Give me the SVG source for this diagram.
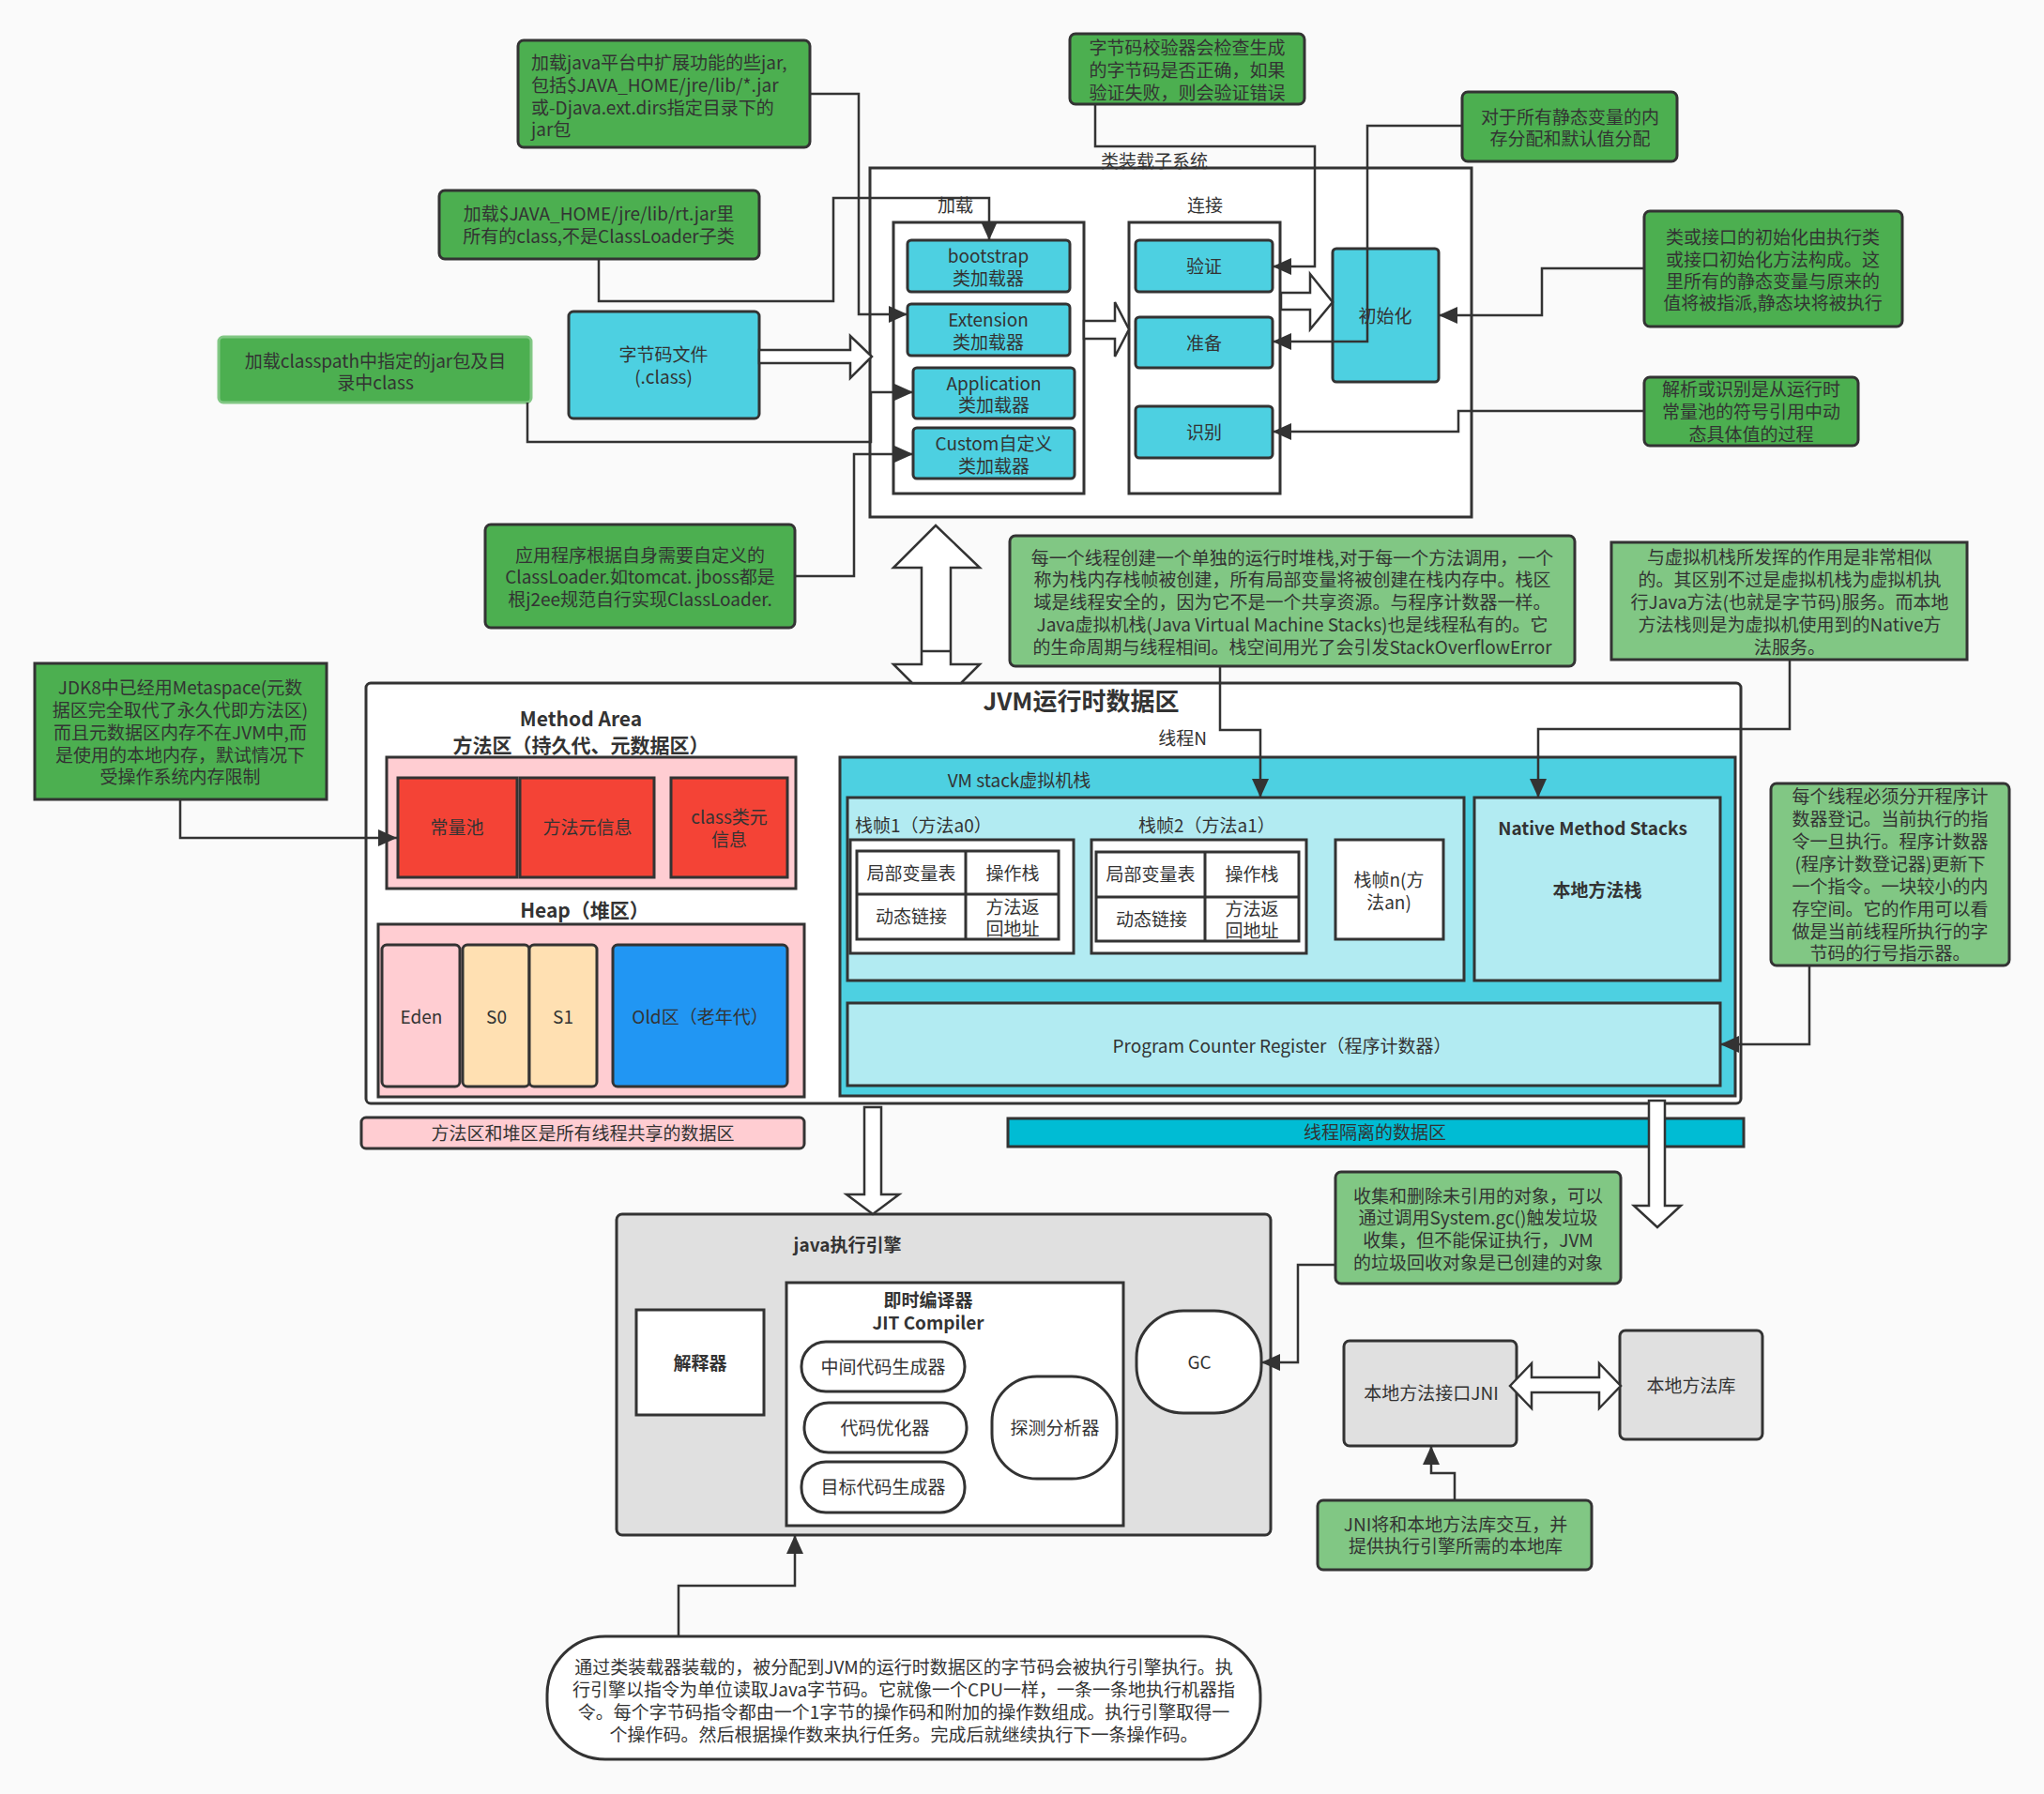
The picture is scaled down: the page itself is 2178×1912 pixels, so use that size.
<svg xmlns="http://www.w3.org/2000/svg" width="2178" height="1912" viewBox="0 0 2178 1912">
<defs>
<style>
.n{stroke:#333;stroke-width:3}
.g{fill:#4CAF50}
.lg{fill:#81C784}
.cy{fill:#4DD0E1}
.lc{fill:#B2EBF2}
.w{fill:#fff}
.pk{fill:#FFCDD2}
.rd{fill:#F44336}
.pe{fill:#FFE0B2}
.bl{fill:#2196F3}
.gr{fill:#E0E0E0}
.t{font-family:"Noto Sans CJK SC","Noto Sans",sans-serif;font-size:19px;fill:#333;text-anchor:middle;dominant-baseline:central;transform:translateY(-2px)}
.l{text-anchor:start}
.b{font-weight:bold}
.c{fill:none;stroke:#333;stroke-width:2.5}
.h{fill:#fff;stroke:#333;stroke-width:2.5;stroke-linejoin:miter}
</style>
<marker id="ah" markerUnits="userSpaceOnUse" markerWidth="22" markerHeight="20" refX="20" refY="10" orient="auto">
<path d="M0,1 L20,10 L0,19 z" fill="#333"/>
</marker>
</defs>
<rect x="0" y="0" width="2178" height="1912" fill="#FAFAFA"/>

<!-- Class loader subsystem -->
<g id="classloader-subsystem">
<rect class="n w" x="927" y="179" width="641" height="372"/>
<text class="t" x="1230" y="172">类装载子系统</text>
</g>
<g id="load-group">
<rect class="n w" x="952" y="237" width="203" height="289"/>
<text class="t" x="1018" y="219">加载</text>
</g>
<g id="link-group">
<rect class="n w" x="1203" y="237" width="161" height="289"/>
<text class="t" x="1284" y="219">连接</text>
</g>
<g id="bootstrap">
<rect class="n cy" x="967" y="256" width="173" height="55" rx="4"/>
<text class="t"><tspan x="1053" y="273">bootstrap</tspan><tspan x="1053" y="297">类加载器</tspan></text>
</g>
<g id="extension">
<rect class="n cy" x="967" y="324" width="173" height="55" rx="4"/>
<text class="t"><tspan x="1053" y="341">Extension</tspan><tspan x="1053" y="365">类加载器</tspan></text>
</g>
<g id="application">
<rect class="n cy" x="973" y="392" width="172" height="54" rx="4"/>
<text class="t"><tspan x="1059" y="409">Application</tspan><tspan x="1059" y="432">类加载器</tspan></text>
</g>
<g id="custom">
<rect class="n cy" x="973" y="456" width="172" height="54" rx="4"/>
<text class="t"><tspan x="1059" y="473">Custom自定义</tspan><tspan x="1059" y="497">类加载器</tspan></text>
</g>
<g id="verify">
<rect class="n cy" x="1210" y="256" width="146" height="55" rx="4"/>
<text class="t" x="1283" y="284">验证</text>
</g>
<g id="prepare">
<rect class="n cy" x="1210" y="338" width="146" height="54" rx="4"/>
<text class="t" x="1283" y="366">准备</text>
</g>
<g id="resolve">
<rect class="n cy" x="1210" y="433" width="146" height="55" rx="4"/>
<text class="t" x="1283" y="461">识别</text>
</g>
<g id="init">
<rect class="n cy" x="1420" y="265" width="113" height="142" rx="4"/>
<text class="t" x="1476" y="337">初始化</text>
</g>

<!-- annotation boxes top -->
<g id="note-ext">
<rect class="n g" x="552" y="43" width="311" height="114" rx="6"/>
<text class="t l"><tspan x="566" y="67">加载java平台中扩展功能的些jar,</tspan><tspan x="566" y="91">包括$JAVA_HOME/jre/lib/*.jar</tspan><tspan x="566" y="115">或-Djava.ext.dirs指定目录下的</tspan><tspan x="566" y="138">jar包</tspan></text>
</g>
<g id="note-boot">
<rect class="n g" x="468" y="203" width="341" height="73" rx="6"/>
<text class="t"><tspan x="638" y="228">加载$JAVA_HOME/jre/lib/rt.jar里</tspan><tspan x="638" y="252">所有的class,不是ClassLoader子类</tspan></text>
</g>
<g id="note-app">
<rect x="233" y="359" width="333" height="70" rx="5" fill="#4CAF50" stroke="#81C784" stroke-width="3"/>
<text class="t"><tspan x="400" y="385">加载classpath中指定的jar包及目</tspan><tspan x="400" y="408">录中class</tspan></text>
</g>
<g id="bytecode-file">
<rect class="n cy" x="606" y="332" width="203" height="114" rx="5"/>
<text class="t"><tspan x="707" y="378">字节码文件</tspan><tspan x="707" y="402">(.class)</tspan></text>
</g>
<g id="note-custom">
<rect class="n g" x="517" y="559" width="330" height="110" rx="6"/>
<text class="t"><tspan x="682" y="592">应用程序根据自身需要自定义的</tspan><tspan x="682" y="615">ClassLoader.如tomcat. jboss都是</tspan><tspan x="682" y="639">根j2ee规范自行实现ClassLoader.</tspan></text>
</g>
<g id="note-verify">
<rect class="n g" x="1140" y="36" width="250" height="75" rx="6"/>
<text class="t"><tspan x="1265" y="51">字节码校验器会检查生成</tspan><tspan x="1265" y="75">的字节码是否正确，如果</tspan><tspan x="1265" y="99">验证失败，则会验证错误</tspan></text>
</g>
<g id="note-prepare">
<rect class="n g" x="1558" y="98" width="229" height="74" rx="6"/>
<text class="t"><tspan x="1673" y="125">对于所有静态变量的内</tspan><tspan x="1673" y="148">存分配和默认值分配</tspan></text>
</g>
<g id="note-init">
<rect class="n g" x="1752" y="225" width="275" height="123" rx="6"/>
<text class="t"><tspan x="1889" y="253">类或接口的初始化由执行类</tspan><tspan x="1889" y="277">或接口初始化方法构成。这</tspan><tspan x="1889" y="300">里所有的静态变量与原来的</tspan><tspan x="1889" y="323">值将被指派,静态块将被执行</tspan></text>
</g>
<g id="note-resolve">
<rect class="n g" x="1752" y="402" width="228" height="73" rx="6"/>
<text class="t"><tspan x="1866" y="415">解析或识别是从运行时</tspan><tspan x="1866" y="439">常量池的符号引用中动</tspan><tspan x="1866" y="463">态具体值的过程</tspan></text>
</g>
<g id="note-stack">
<rect class="n lg" x="1076" y="571" width="602" height="139" rx="6"/>
<text class="t"><tspan x="1377" y="595">每一个线程创建一个单独的运行时堆栈,对于每一个方法调用，一个</tspan><tspan x="1377" y="618">称为栈内存栈帧被创建，所有局部变量将被创建在栈内存中。栈区</tspan><tspan x="1377" y="642">域是线程安全的，因为它不是一个共享资源。与程序计数器一样。</tspan><tspan x="1377" y="666">Java虚拟机栈(Java Virtual Machine Stacks)也是线程私有的。它</tspan><tspan x="1377" y="690">的生命周期与线程相间。栈空间用光了会引发StackOverflowError</tspan></text>
</g>
<g id="note-native">
<rect class="n lg" x="1717" y="578" width="379" height="125"/>
<text class="t"><tspan x="1907" y="594">与虚拟机栈所发挥的作用是非常相似</tspan><tspan x="1907" y="618">的。其区别不过是虚拟机栈为虚拟机执</tspan><tspan x="1907" y="642">行Java方法(也就是字节码)服务。而本地</tspan><tspan x="1907" y="666">方法栈则是为虚拟机使用到的Native方</tspan><tspan x="1907" y="690">法服务。</tspan></text>
</g>
<g id="note-metaspace">
<rect class="n g" x="37" y="707" width="311" height="145"/>
<text class="t"><tspan x="192" y="733">JDK8中已经用Metaspace(元数</tspan><tspan x="192" y="757">据区完全取代了永久代即方法区)</tspan><tspan x="192" y="781">而且元数据区内存不在JVM中,而</tspan><tspan x="192" y="805">是使用的本地内存，默试情况下</tspan><tspan x="192" y="828">受操作系统内存限制</tspan></text>
</g>
<g id="note-pc">
<rect class="n lg" x="1887" y="835" width="254" height="194" rx="6"/>
<text class="t"><tspan x="2014" y="849">每个线程必须分开程序计</tspan><tspan x="2014" y="873">数器登记。当前执行的指</tspan><tspan x="2014" y="897">令一旦执行。程序计数器</tspan><tspan x="2014" y="921">(程序计数登记器)更新下</tspan><tspan x="2014" y="945">一个指令。一块较小的内</tspan><tspan x="2014" y="969">存空间。它的作用可以看</tspan><tspan x="2014" y="993">做是当前线程所执行的字</tspan><tspan x="2014" y="1016">节码的行号指示器。</tspan></text>
</g>

<!-- JVM runtime data area -->
<g id="jvm-runtime">
<rect class="n w" x="390" y="728" width="1465" height="448" rx="5"/>
<text class="t b" x="1152" y="747" style="font-size:26px">JVM运行时数据区</text>
<text class="t" x="1260" y="787">线程N</text>
</g>
<g id="method-area">
<text class="t b" style="font-size:21px"><tspan x="619" y="767">Method Area</tspan><tspan x="619" y="795">方法区（持久代、元数据区）</tspan></text>
<rect class="n pk" x="412" y="807" width="436" height="140"/>
</g>
<g id="const-pool">
<rect class="n rd" x="424" y="829" width="127" height="106"/>
<text class="t" x="487" y="882">常量池</text>
</g>
<g id="method-meta">
<rect class="n rd" x="554" y="829" width="143" height="106"/>
<text class="t" x="626" y="882">方法元信息</text>
</g>
<g id="class-meta">
<rect class="n rd" x="715" y="829" width="124" height="106"/>
<text class="t"><tspan x="777" y="871">class类元</tspan><tspan x="777" y="895">信息</tspan></text>
</g>
<g id="heap">
<text class="t b" x="623" y="971" style="font-size:21px">Heap（堆区）</text>
<rect class="n pk" x="403" y="985" width="454" height="184"/>
</g>
<g id="eden">
<rect class="n pk" x="407" y="1007" width="83" height="151" rx="5"/>
<text class="t" x="449" y="1084">Eden</text>
</g>
<g id="s0">
<rect class="n pe" x="493" y="1007" width="71" height="151" rx="5"/>
<text class="t" x="529" y="1084">S0</text>
</g>
<g id="s1">
<rect class="n pe" x="564" y="1007" width="72" height="151" rx="5"/>
<text class="t" x="600" y="1084">S1</text>
</g>
<g id="old">
<rect class="n bl" x="653" y="1007" width="186" height="151" rx="5"/>
<text class="t" x="746" y="1084">Old区（老年代）</text>
</g>
<g id="vm-stack">
<rect class="n cy" x="895" y="807" width="954" height="361"/>
<text class="t" x="1086" y="832">VM stack虚拟机栈</text>
<rect class="n lc" x="903" y="850" width="657" height="195"/>
<text class="t l" x="911" y="880">栈帧1（方法a0）</text>
<text class="t l" x="1213" y="880">栈帧2（方法a1）</text>
</g>
<g id="frame1">
<rect class="n w" x="906" y="895" width="238" height="121"/>
<rect class="n w" x="913" y="907" width="215" height="94"/>
<path class="c" d="M1029,907 V1001 M913,953 H1128" style="stroke-width:3"/>
<text class="t" x="971" y="931">局部变量表</text>
<text class="t" x="1079" y="931">操作栈</text>
<text class="t" x="971" y="977">动态链接</text>
<text class="t"><tspan x="1079" y="967">方法返</tspan><tspan x="1079" y="990">回地址</tspan></text>
</g>
<g id="frame2">
<rect class="n w" x="1163" y="895" width="229" height="121"/>
<rect class="n w" x="1168" y="908" width="216" height="95"/>
<path class="c" d="M1284,908 V1003 M1168,956 H1384" style="stroke-width:3"/>
<text class="t" x="1226" y="932">局部变量表</text>
<text class="t" x="1334" y="932">操作栈</text>
<text class="t" x="1227" y="980">动态链接</text>
<text class="t"><tspan x="1334" y="969">方法返</tspan><tspan x="1334" y="992">回地址</tspan></text>
</g>
<g id="frame-n">
<rect class="n w" x="1423" y="895" width="115" height="106"/>
<text class="t"><tspan x="1480" y="938">栈帧n(方</tspan><tspan x="1480" y="962">法an)</tspan></text>
</g>
<g id="native-stack">
<rect class="n lc" x="1571" y="850" width="262" height="195"/>
<text class="t b" x="1697" y="883">Native Method Stacks</text>
<text class="t b" x="1702" y="949">本地方法栈</text>
</g>
<g id="pc-register">
<rect class="n lc" x="903" y="1069" width="930" height="88"/>
<text class="t" x="1366" y="1115">Program Counter Register（程序计数器）</text>
</g>
<g id="shared-label">
<rect class="n pk" x="385" y="1191" width="472" height="33" rx="5"/>
<text class="t" x="621" y="1208">方法区和堆区是所有线程共享的数据区</text>
</g>
<g id="isolated-label">
<rect class="n" x="1074" y="1192" width="784" height="30" fill="#00BCD4"/>
<text class="t" x="1465" y="1207">线程隔离的数据区</text>
</g>

<!-- Execution engine -->
<g id="exec-engine">
<rect class="n gr" x="657" y="1294" width="697" height="342" rx="6"/>
<text class="t b" x="903" y="1327">java执行引擎</text>
</g>
<g id="interpreter">
<rect class="n w" x="678" y="1396" width="136" height="112"/>
<text class="t b" x="746" y="1453">解释器</text>
</g>
<g id="jit">
<rect class="n w" x="838" y="1367" width="359" height="259"/>
<text class="t b"><tspan x="989" y="1386">即时编译器</tspan><tspan x="989" y="1410">JIT Compiler</tspan></text>
</g>
<g id="ir-gen">
<rect class="n w" x="854" y="1430" width="174" height="53" rx="26"/>
<text class="t" x="941" y="1457">中间代码生成器</text>
</g>
<g id="optimizer">
<rect class="n w" x="857" y="1495" width="173" height="53" rx="26"/>
<text class="t" x="943" y="1522">代码优化器</text>
</g>
<g id="target-gen">
<rect class="n w" x="854" y="1558" width="174" height="54" rx="26"/>
<text class="t" x="941" y="1585">目标代码生成器</text>
</g>
<g id="profiler">
<rect class="n w" x="1057" y="1467" width="133" height="109" rx="48"/>
<text class="t" x="1124" y="1522">探测分析器</text>
</g>
<g id="gc">
<rect class="n w" x="1211" y="1397" width="133" height="109" rx="50"/>
<text class="t" x="1278" y="1452">GC</text>
</g>
<g id="note-gc">
<rect class="n lg" x="1423" y="1249" width="304" height="119" rx="6"/>
<text class="t"><tspan x="1575" y="1275">收集和删除未引用的对象，可以</tspan><tspan x="1575" y="1298">通过调用System.gc()触发垃圾</tspan><tspan x="1575" y="1322">收集，但不能保证执行，JVM</tspan><tspan x="1575" y="1346">的垃圾回收对象是已创建的对象</tspan></text>
</g>
<g id="jni">
<rect class="n gr" x="1432" y="1429" width="184" height="112" rx="6"/>
<text class="t" x="1525" y="1485">本地方法接口JNI</text>
</g>
<g id="native-lib">
<rect class="n gr" x="1726" y="1418" width="152" height="116" rx="6"/>
<text class="t" x="1802" y="1477">本地方法库</text>
</g>
<g id="note-jni">
<rect class="n lg" x="1404" y="1599" width="292" height="74" rx="6"/>
<text class="t"><tspan x="1551" y="1625">JNI将和本地方法库交互，并</tspan><tspan x="1551" y="1648">提供执行引擎所需的本地库</tspan></text>
</g>
<g id="note-engine">
<rect class="n w" x="583" y="1744" width="760" height="131" rx="62"/>
<text class="t"><tspan x="963" y="1777">通过类装载器装载的，被分配到JVM的运行时数据区的字节码会被执行引擎执行。执</tspan><tspan x="963" y="1801">行引擎以指令为单位读取Java字节码。它就像一个CPU一样，一条一条地执行机器指</tspan><tspan x="963" y="1825">令。每个字节码指令都由一个1字节的操作码和附加的操作数组成。执行引擎取得一</tspan><tspan x="963" y="1849">个操作码。然后根据操作数来执行任务。完成后就继续执行下一条操作码。</tspan></text>
</g>

<!-- Connectors -->
<g id="connectors">
<path class="c" d="M863,100 H915 V335 H967" marker-end="url(#ah)"/>
<path class="c" d="M638,276 V321 H888 V211 H1054 V256" marker-end="url(#ah)"/>
<path class="c" d="M562,429 V471 H928 V418 H973" marker-end="url(#ah)"/>
<path class="c" d="M847,614 H910 V484 H973" marker-end="url(#ah)"/>
<path class="c" d="M1167,111 V156 H1401 V284 H1356" marker-end="url(#ah)"/>
<path class="c" d="M1558,134 H1457 V364 H1356" marker-end="url(#ah)"/>
<path class="c" d="M1752,286 H1643 V336 H1533" marker-end="url(#ah)"/>
<path class="c" d="M1752,438 H1554 V460 H1356" marker-end="url(#ah)"/>
<path class="c" d="M192,852 V893 H423" marker-end="url(#ah)"/>
<path class="c" d="M1300,710 V778 H1343 V850" marker-end="url(#ah)"/>
<path class="c" d="M1907,703 V777 H1639 V850" marker-end="url(#ah)"/>
<path class="c" d="M1928,1029 V1113 H1833" marker-end="url(#ah)"/>
<path class="c" d="M1423,1348 H1383 V1452 H1344" marker-end="url(#ah)"/>
<path class="c" d="M1550,1599 V1570 H1525 V1541" marker-end="url(#ah)"/>
<path class="c" d="M723,1744 V1690 H847 V1636" marker-end="url(#ah)"/>
<polygon class="h" points="809,373 906,373 906,358 929,380 906,403 906,387 809,387"/>
<polygon class="h" points="1155,342 1188,342 1188,322 1203,351 1188,380 1188,361 1155,361"/>
<polygon class="h" points="1365,312 1396,312 1396,292 1420,322 1396,351 1396,330 1365,330"/>
<polygon class="h" points="997,560 1044,605 1013,605 1013,708 1044,708 1024,728 972,728 952,708 982,708 982,605 952,605"/>
<path class="c" d="M982,694 H1013"/>
<polygon class="h" points="921,1180 939,1180 939,1273 958,1273 930,1294 902,1273 921,1273"/>
<polygon class="h" points="1757,1173 1774,1173 1774,1285 1791,1285 1766,1308 1741,1285 1757,1285"/>
<polygon class="h" points="1609,1477 1632,1453 1632,1468 1704,1468 1704,1453 1727,1477 1704,1501 1704,1484 1632,1484 1632,1501"/>
</g>
</svg>
